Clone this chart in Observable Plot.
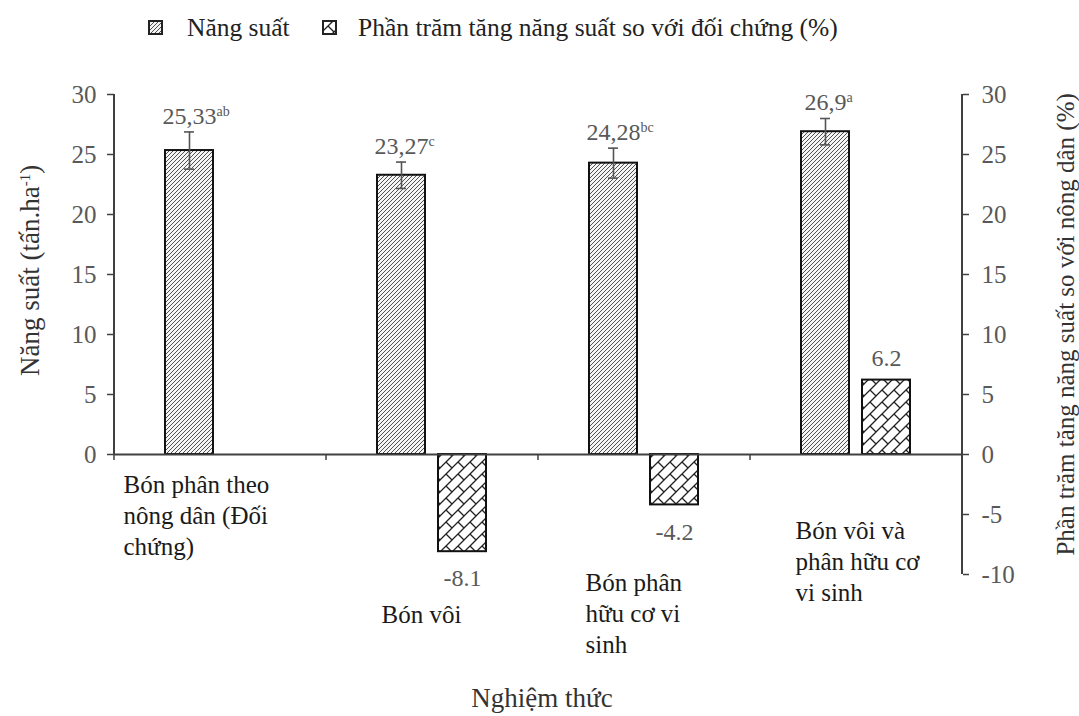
<!DOCTYPE html>
<html>
<head>
<meta charset="utf-8">
<script src="https://cdn.jsdelivr.net/npm/d3@7"></script>
<script src="https://cdn.jsdelivr.net/npm/@observablehq/plot@0.6"></script>
<style>
  html, body { margin: 0; padding: 0; background: #fff; }
  body { width: 1079px; height: 716px; overflow: hidden; font-family: "Liberation Serif", "Times New Roman", serif; }
  #legend { position: relative; height: 60px; }
  #legend .sw { position: absolute; }
  #legend .lt { position: absolute; top: 13px; font-size: 25.5px; line-height: 30px; color: #222; white-space: nowrap; }
  #chart { position: relative; height: 656px; }
</style>
</head>
<body>
<svg width="0" height="0" style="position:absolute">
  <defs>
    <pattern id="hatchYield" patternUnits="userSpaceOnUse" width="4" height="4">
      <rect width="4" height="4" fill="#f4f4f4"></rect>
      <path d="M-1,1 L1,-1 M0,4 L4,0 M3,5 L5,3" stroke="#4a4a4a" stroke-width="0.95"></path>
    </pattern>
    <pattern id="hatchPct" patternUnits="userSpaceOnUse" width="12" height="12">
      <rect width="12" height="12" fill="#ffffff"></rect>
      <path d="M0,12 L12,0 M-3,3 L3,-3 M9,15 L15,9 M6,6 L12,12" stroke="#222" stroke-width="1.3" fill="none"></path>
    </pattern>
  </defs>
</svg>
<div id="legend"></div>
<div id="chart"></div>
<script>
// ---------------- data ----------------
const categories = [
  "Bón phân theo nông dân (Đối chứng)",
  "Bón vôi",
  "Bón phân hữu cơ vi sinh",
  "Bón vôi và phân hữu cơ vi sinh"
];
const categoryLabelLines = [
  "Bón phân theo\nnông dân (Đối\nchứng)",
  "Bón vôi",
  "Bón phân\nhữu cơ vi\nsinh",
  "Bón vôi và\nphân hữu cơ\nvi sinh"
];
const seriesNames = ["Năng suất", "Phần trăm tăng năng suất so với đối chứng (%)"];
const yieldValues = [25.33, 23.27, 24.28, 26.9];
const yieldErrors = [1.55, 1.1, 1.25, 1.1];
const yieldLetters = ["ab", "c", "bc", "a"];
const pctValues = [null, -8.1, -4.2, 6.2];
const leftTicks = [0, 5, 10, 15, 20, 25, 30];
const rightTicks = [-10, -5, 0, 5, 10, 15, 20, 25, 30];
const yTitleLeft = "Năng suất (tấn.ha";
const yTitleLeftSup = "-1";
const yTitleRight = "Phần trăm tăng năng suất so với nông dân (%)";
const xTitle = "Nghiệm thức";

// ---------------- tables ----------------
const yieldRows = categories.map((c, i) => ({
  category: c, series: seriesNames[0], value: yieldValues[i], err: yieldErrors[i],
  label: String(yieldValues[i]).replace(".", ","), letters: yieldLetters[i]
}));
const pctRows = categories.map((c, i) => ({
  category: c, series: seriesNames[1], value: pctValues[i], label: pctValues[i] == null ? "" : String(pctValues[i])
})).filter(d => d.value != null);

// ---------------- legend ----------------
const legend = d3.select("#legend");
const legendPos = [[148, 187, "hatchYield"], [322, 358, "hatchPct"]];
seriesNames.forEach((name, i) => {
  const [sx, tx, pat] = legendPos[i];
  const sw = legend.append("svg").attr("class", "sw").attr("width", 15).attr("height", 15)
    .style("left", sx + "px").style("top", "20px");
  sw.append("rect").attr("x", 1).attr("y", 1).attr("width", 13).attr("height", 13)
    .attr("fill", `url(#${pat})`).attr("stroke", "#222").attr("stroke-width", 2);
  legend.append("div").attr("class", "lt").style("left", tx + "px").text(name);
});

// ---------------- chart ----------------
const W = 1079, H = 656;
const labelColor = "#595959";
const axisColor = "#404040";
const catMarks = categoryLabelLines.map((txt, i) => {
  const off = [[9, 376], [55, 506], [47, 474], [45, 422]][i];
  return Plot.text([categories[i]], {
    fx: d => d, text: () => txt, frameAnchor: "top-left", textAnchor: "start", lineAnchor: "top",
    lineHeight: 1.24, dx: off[0], dy: off[1], fontSize: 25, fill: "#1a1a1a"
  });
});

const plot = Plot.plot({
  width: W, height: H,
  marginTop: 34, marginBottom: 142, marginLeft: 114, marginRight: 117,
  style: { fontFamily: "Liberation Serif, Times New Roman, serif", fontSize: "25px", background: "transparent", overflow: "visible" },
  fx: { domain: categories, padding: 0, axis: null, label: null },
  x: { domain: seriesNames, paddingInner: 0.213, paddingOuter: 0.844, axis: null },
  y: { domain: [-10, 30], axis: null },
  marks: [
    Plot.barY(yieldRows, { fx: "category", x: "series", y: "value", fill: "url(#hatchYield)", stroke: "#111", strokeWidth: 2 }),
    Plot.barY(pctRows, { fx: "category", x: "series", y: "value", fill: "url(#hatchPct)", stroke: "#111", strokeWidth: 2 }),
    Plot.ruleY([0], { stroke: axisColor, strokeWidth: 2 }),
    Plot.ruleX(yieldRows, { fx: "category", x: "series", y1: d => d.value - d.err, y2: d => d.value + d.err, stroke: "#555", strokeWidth: 1.6 }),
    Plot.tickY(yieldRows, { fx: "category", x: "series", y: d => d.value + d.err, insetLeft: 19, insetRight: 19, stroke: "#555", strokeWidth: 1.6 }),
    Plot.tickY(yieldRows, { fx: "category", x: "series", y: d => d.value - d.err, insetLeft: 19, insetRight: 19, stroke: "#555", strokeWidth: 1.6 }),
    Plot.text(yieldRows, { fx: "category", x: "series", y: d => d.value + d.err, text: "label", dy: -16, fontSize: 24, fill: labelColor }),
    Plot.text(pctRows.filter(d => d.value >= 0), { fx: "category", x: "series", y: "value", text: "label", dy: -22, fontSize: 24, fill: labelColor }),
    Plot.text(pctRows.filter(d => d.value < 0), { fx: "category", x: "series", y: "value", text: "label", dy: 27, fontSize: 24, fill: labelColor }),
    Plot.axisY({ anchor: "left", label: null, ticks: leftTicks, tickFormat: d => String(d), tickSize: 7, tickPadding: 11, fontSize: 25, fill: labelColor, stroke: axisColor, strokeWidth: 1.5 }),
    Plot.axisY({ anchor: "right", label: null, ticks: rightTicks, tickFormat: d => String(d), tickSize: 6, tickPadding: 13, fontSize: 25, fill: labelColor, stroke: axisColor, strokeWidth: 1.5 }),
    ...catMarks
  ]
});
document.getElementById("chart").appendChild(plot);

// ---------------- decorations from the library's scales ----------------
const ns = "http://www.w3.org/2000/svg";
const svg = d3.select(plot);
const fxS = plot.scale("fx");
const yS = plot.scale("y");
const xLeft = fxS.range[0], xRight = fxS.range[1];
const y0 = yS.apply(0);
const deco = svg.append("g").attr("stroke", axisColor).attr("stroke-width", 2);
deco.append("line").attr("x1", xLeft).attr("x2", xLeft).attr("y1", yS.apply(0)).attr("y2", yS.apply(30));
deco.append("line").attr("x1", xRight).attr("x2", xRight).attr("y1", yS.apply(-10)).attr("y2", yS.apply(30));
categories.forEach(c => {
  const x = fxS.apply(c);
  deco.append("line").attr("x1", x).attr("x2", x).attr("y1", y0).attr("y2", y0 + 6).attr("stroke-width", 1.5);
});

// axis titles
const lt = svg.append("text").attr("transform", `translate(30,${yS.apply(15.3)}) rotate(-90)`)
  .attr("text-anchor", "middle").attr("dy", "0.35em").attr("font-size", 27).attr("fill", "#333").text(yTitleLeft);
lt.append("tspan").attr("font-size", 15).attr("dy", -9).text(yTitleLeftSup);
lt.append("tspan").attr("dy", 9).text(")");
svg.append("text").attr("transform", `translate(1065,${yS.apply(10.8)}) rotate(-90)`)
  .attr("text-anchor", "middle").attr("dy", "0.35em").attr("font-size", 25).attr("fill", "#333").text(yTitleRight);
svg.append("text").attr("x", (xLeft + xRight) / 2 + 4).attr("y", 638).attr("text-anchor", "middle")
  .attr("dy", "0.35em").attr("font-size", 27).attr("fill", "#333").text(xTitle);

// superscript letters on yield labels
const supMap = new Map(yieldRows.map(d => [d.label, d.letters]));
plot.querySelectorAll("text").forEach(t => {
  if (t.querySelector("tspan")) return;
  const letters = supMap.get(t.textContent);
  if (letters === undefined) return;
  const before = t.getComputedTextLength();
  const ts = document.createElementNS(ns, "tspan");
  ts.setAttribute("font-size", "14");
  ts.setAttribute("dy", "-8");
  ts.textContent = letters;
  t.appendChild(ts);
  const after = t.getComputedTextLength();
  const g = document.createElementNS(ns, "g");
  g.setAttribute("transform", `translate(${(after - before) / 2},0)`);
  t.parentNode.insertBefore(g, t);
  g.appendChild(t);
});
</script>
</body>
</html>
